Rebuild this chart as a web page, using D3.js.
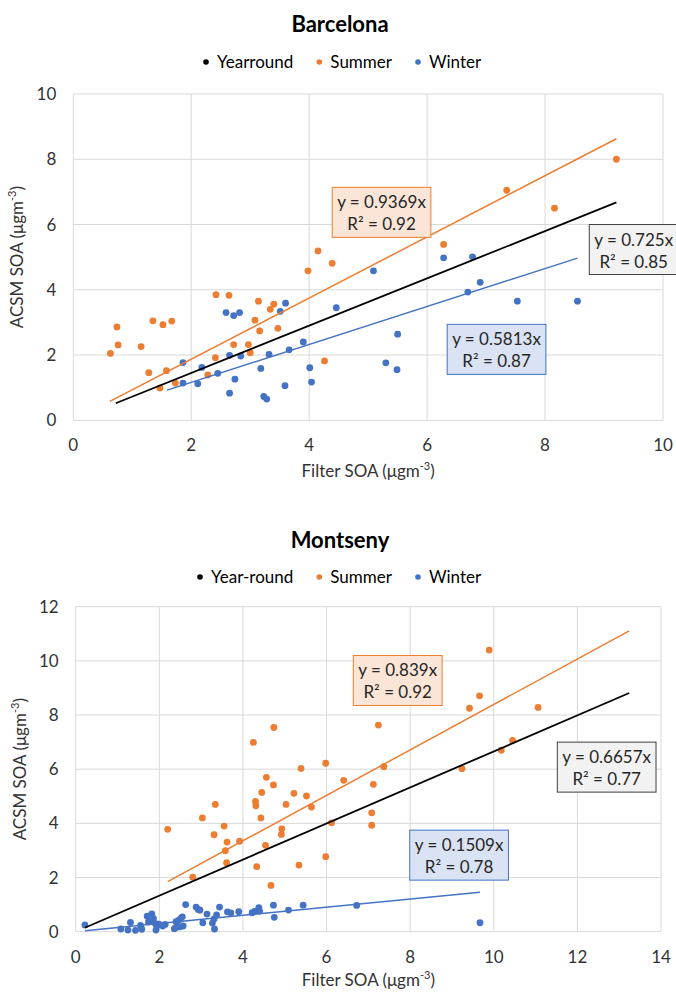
<!DOCTYPE html>
<html>
<head>
<meta charset="UTF-8">
<title>Filter SOA vs ACSM SOA</title>
<style>
  body { margin: 0; background: #fff; }
  text { font-family: Lato, "Open Sans", sans-serif; }
</style>
</head>
<body>
<svg id="chart"></svg>
<script src="https://d3js.org/d3.v7.min.js"></script>
<script>

// ---- data ----
var seriesNames = ["Summer", "Winter"];

// Barcelona
var bcnSummer = [
  [0.63,2.05],[0.74,2.86],[0.76,2.31],[1.15,2.26],[1.35,3.05],[1.52,2.93],[1.67,3.04],
  [1.28,1.46],[1.58,1.52],[1.47,0.99],[1.73,1.14],[2.42,3.85],[2.64,3.83],[2.41,1.92],
  [2.28,1.39],[2.72,2.32],[2.97,2.32],[3.00,2.07],[3.08,3.07],[3.14,3.65],[3.16,2.74],
  [3.34,3.40],[3.40,3.56],[3.47,2.82],[3.98,4.58],[4.15,5.19],[4.39,4.81],[4.26,1.82],
  [6.28,5.39],[7.35,7.05],[8.16,6.50],[9.21,8.00]
];
var bcnWinter = [
  [1.86,1.77],[1.86,1.14],[2.11,1.12],[2.18,1.62],[2.45,1.44],[2.59,3.30],[2.72,3.21],
  [2.82,3.30],[2.65,1.99],[2.84,1.97],[2.74,1.26],[2.65,0.83],[3.18,1.59],[3.23,0.73],
  [3.28,0.65],[3.32,2.02],[3.51,3.34],[3.60,3.59],[3.66,2.16],[3.59,1.06],[3.90,2.40],
  [4.01,1.61],[4.04,1.17],[4.46,3.45],[5.09,4.58],[5.50,2.64],[5.30,1.76],[5.49,1.55],
  [6.28,4.98],[6.77,5.01],[6.69,3.93],[6.90,4.23],[7.53,3.65],[8.55,3.65]
];
// trend lines: slope, x start, x end, label lines
var bcnFits = [
  {name: "Yearround", slope: 0.725,  x0: 0.72, x1: 9.21, label: ["y = 0.725x", "R² = 0.85"],  box: [8.75, 6.0]},
  {name: "Summer",    slope: 0.9369, x0: 0.62, x1: 9.21, label: ["y = 0.9369x", "R² = 0.92"], box: [4.39, 7.14]},
  {name: "Winter",    slope: 0.5813, x0: 1.59, x1: 8.55, label: ["y = 0.5813x", "R² = 0.87"], box: [6.34, 2.94]}
];

// Montseny
var mtsSummer = [
  [2.20,3.78],[2.80,2.01],[3.03,4.20],[3.34,4.70],[3.31,3.58],[3.55,3.90],[3.62,3.31],
  [3.58,2.99],[3.61,2.55],[3.92,3.34],[2.97,0.80],[4.25,6.99],[4.74,7.54],[4.30,4.81],
  [4.31,4.65],[4.56,5.70],[4.45,5.14],[4.73,5.42],[4.43,4.20],[4.54,3.19],[4.33,2.40],
  [4.67,1.71],[5.03,4.70],[5.22,5.11],[5.39,6.03],[5.52,5.01],[5.64,4.60],[4.93,3.80],
  [4.92,3.59],[5.34,2.46],[5.98,6.22],[5.98,2.77],[6.12,4.02],[6.41,5.59],[7.24,7.63],
  [7.37,6.09],[7.12,5.44],[7.08,4.39],[7.08,3.93],[9.24,6.02],[9.42,8.25],[9.66,8.71],
  [9.89,10.40],[10.18,6.70],[10.45,7.06],[11.06,8.28]
];
var mtsWinter = [
  [0.22,0.25],[1.08,0.10],[1.25,0.06],[1.31,0.34],[1.43,0.05],[1.55,0.23],[1.58,0.09],
  [1.71,0.57],[1.74,0.36],[1.82,0.66],[1.78,0.38],[1.86,0.49],[1.90,0.31],[1.92,0.06],
  [1.94,0.20],[1.99,0.28],[2.08,0.21],[2.14,0.27],[2.36,0.11],[2.40,0.37],[2.46,0.42],
  [2.51,0.48],[2.55,0.55],[2.41,0.16],[2.49,0.18],[2.57,0.21],[2.63,1.00],[2.88,0.91],
  [2.93,0.82],[2.97,0.80],[3.04,0.33],[3.14,0.65],[3.27,0.32],[3.32,0.10],[3.31,0.47],
  [3.37,0.62],[3.44,0.91],[3.63,0.73],[3.71,0.69],[3.90,0.74],[4.22,0.70],[4.28,0.75],
  [4.38,0.89],[4.40,0.76],[4.73,0.98],[4.75,0.53],[5.09,0.80],[5.44,0.98],[6.72,0.97],
  [9.67,0.33]
];
var mtsFits = [
  {name: "Year-round", slope: 0.6657, x0: 0.22, x1: 13.24, label: ["y = 0.6657x", "R² = 0.77"], box: [11.52, 7.0]},
  {name: "Summer",     slope: 0.839,  x0: 2.20, x1: 13.24, label: ["y = 0.839x", "R² = 0.92"],  box: [6.64, 10.2]},
  {name: "Winter",     slope: 0.1509, x0: 0.22, x1: 9.67,  label: ["y = 0.1509x", "R² = 0.78"], box: [7.99, 3.75]}
];

var colors = {fit0: "#000000", Summer: "#ed7d31", Winter: "#4472c4"};
var boxStyle = [
  {fill: "#f2f2f2", stroke: "#404040"},
  {fill: "#fbe5d6", stroke: "#ed7d31"},
  {fill: "#dae3f3", stroke: "#4472c4"}
];

var svg = d3.select("#chart").attr("width", 676).attr("height", 992);

function drawPanel(cfg) {
  var g = svg.append("g");
  var x = d3.scaleLinear().domain([0, cfg.xMax]).range([cfg.left, cfg.right]);
  var y = d3.scaleLinear().domain([0, cfg.yMax]).range([cfg.bottom, cfg.top]);
  var xt = d3.range(0, cfg.xMax + 1, 2), yt = d3.range(0, cfg.yMax + 1, 2);

  // grid
  g.append("g").selectAll("line").data(xt).enter().append("line")
    .attr("x1", d => x(d)).attr("x2", d => x(d))
    .attr("y1", cfg.top).attr("y2", cfg.bottom)
    .attr("stroke", "#d9d9d9").attr("stroke-width", 1);
  g.append("g").selectAll("line").data(yt).enter().append("line")
    .attr("y1", d => y(d)).attr("y2", d => y(d))
    .attr("x1", cfg.left).attr("x2", cfg.right)
    .attr("stroke", "#d9d9d9").attr("stroke-width", 1);

  // tick labels
  g.append("g").selectAll("text").data(xt).enter().append("text")
    .attr("x", d => x(d)).attr("y", cfg.bottom + 31)
    .attr("text-anchor", "middle").attr("font-size", 17).attr("fill", "#333")
    .text(d => d);
  g.append("g").selectAll("text").data(yt).enter().append("text")
    .attr("x", cfg.left - 17).attr("y", d => y(d) + 6)
    .attr("text-anchor", "end").attr("font-size", 17).attr("fill", "#333")
    .text(d => d);

  // axis titles
  var xtl = g.append("text")
    .attr("x", (cfg.left + cfg.right) / 2).attr("y", cfg.bottom + cfg.xTitleOff)
    .attr("text-anchor", "middle").attr("font-size", 17).attr("fill", "#333");
  xtl.append("tspan").text("Filter SOA (μgm");
  xtl.append("tspan").attr("font-size", 11).attr("dy", -7).text("-3");
  xtl.append("tspan").attr("dy", 7).text(")");

  var ytl = g.append("text")
    .attr("transform", "translate(" + (cfg.left - 50) + "," + ((cfg.top + cfg.bottom) / 2) + ") rotate(-90)")
    .attr("text-anchor", "middle").attr("font-size", 17).attr("fill", "#333");
  ytl.append("tspan").text("ACSM SOA (μgm");
  ytl.append("tspan").attr("font-size", 11).attr("dy", -7).text("-3");
  ytl.append("tspan").attr("dy", 7).text(")");

  // title
  g.append("text").attr("x", 340).attr("y", cfg.titleY)
    .attr("text-anchor", "middle").attr("font-size", 22).attr("font-weight", "bold")
    .attr("fill", "#000").text(cfg.title);

  // legend
  var legNames = [cfg.fits[0].name].concat(seriesNames);
  var legCol = [colors.fit0, colors.Summer, colors.Winter];
  var lx = cfg.legendX;
  legNames.forEach(function(n, i) {
    var t = g.append("text").attr("x", lx + 11).attr("y", cfg.legendY)
      .attr("font-size", 17).attr("fill", "#000").text(n);
    g.append("circle").attr("cx", lx).attr("cy", cfg.legendY - 6).attr("r", 2.8).attr("fill", legCol[i]);
    lx += 11 + t.node().getComputedTextLength() + 26;
  });

  // points
  [cfg.summer, cfg.winter].forEach(function(pts, i) {
    g.append("g").selectAll("circle").data(pts).enter().append("circle")
      .attr("cx", d => x(d[0])).attr("cy", d => y(d[1])).attr("r", 3.4)
      .attr("fill", i === 0 ? colors.Summer : colors.Winter);
  });

  // trend lines
  var lineCol = [colors.fit0, colors.Summer, colors.Winter];
  cfg.fits.forEach(function(f, i) {
    g.append("line")
      .attr("x1", x(f.x0)).attr("y1", y(f.slope * f.x0))
      .attr("x2", x(f.x1)).attr("y2", y(f.slope * f.x1))
      .attr("stroke", lineCol[i]).attr("stroke-width", i === 0 ? 1.8 : 1.5);
  });

  // labels
  cfg.fits.forEach(function(f, i) {
    var bx = x(f.box[0]), by = y(f.box[1]);
    var lab = g.append("g");
    var rect = lab.append("rect").attr("y", by).attr("height", 50)
      .attr("fill", boxStyle[i].fill).attr("stroke", boxStyle[i].stroke).attr("stroke-width", 1);
    var w = 0;
    f.label.forEach(function(s, j) {
      var t = lab.append("text").attr("y", by + 21 + j * 22)
        .attr("text-anchor", "middle").attr("font-size", 17).attr("fill", "#262626").text(s);
      w = Math.max(w, t.node().getComputedTextLength());
    });
    var bw = w + 10;
    rect.attr("x", bx).attr("width", bw);
    lab.selectAll("text").attr("x", bx + bw / 2);
  });
}

drawPanel({
  title: "Barcelona", titleY: 32, legendY: 68, legendX: 206, xTitleOff: 57,
  left: 73.3, right: 663, top: 94, bottom: 420.3, xMax: 10, yMax: 10,
  summer: bcnSummer, winter: bcnWinter, fits: bcnFits
});
drawPanel({
  title: "Montseny", titleY: 548, legendY: 583, legendX: 200, xTitleOff: 54,
  left: 75.7, right: 661, top: 606.7, bottom: 931.7, xMax: 14, yMax: 12,
  summer: mtsSummer, winter: mtsWinter, fits: mtsFits
});

</script>
</body>
</html>
